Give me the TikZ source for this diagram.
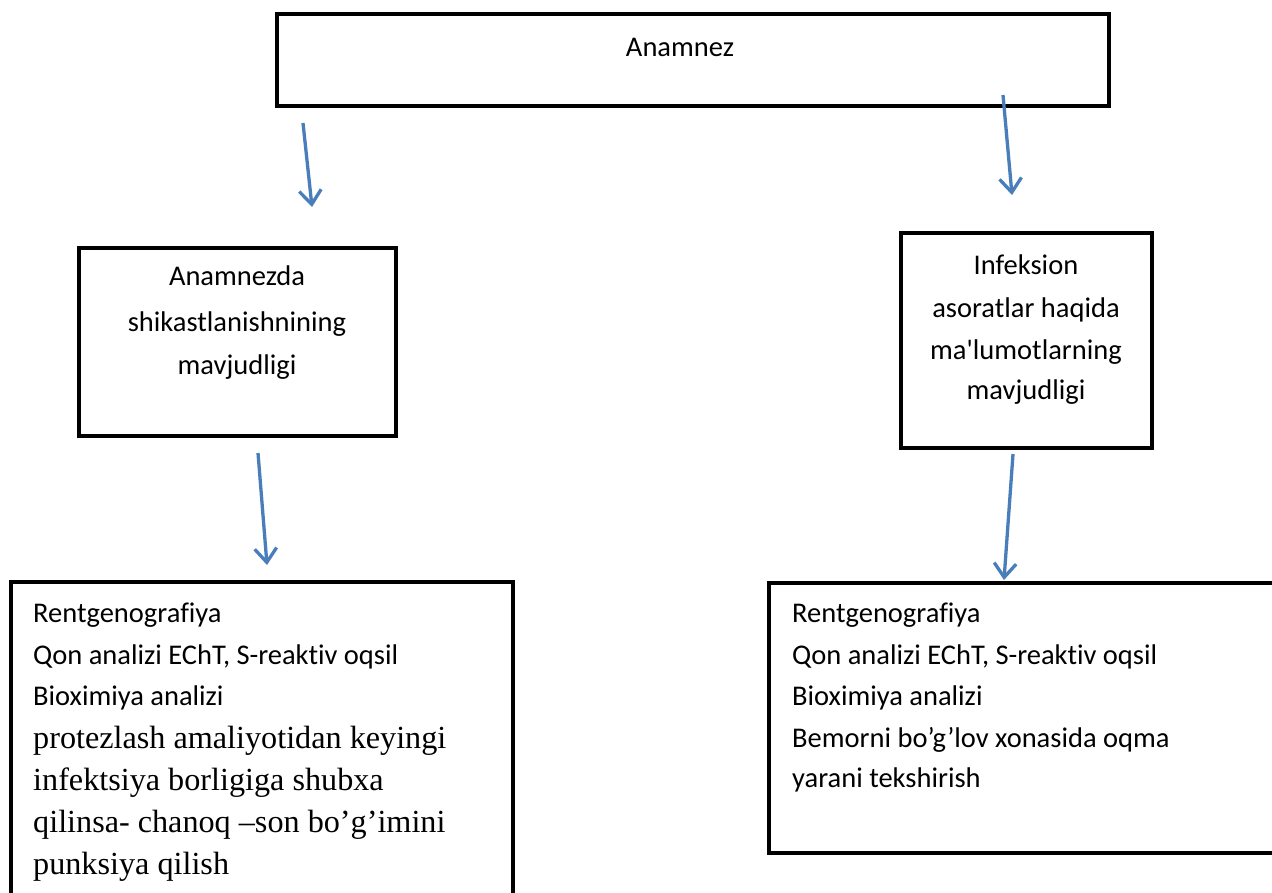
\documentclass[tikz,border=0pt]{standalone}
\usepackage{fontspec}
\setmainfont{Liberation Serif}
\newfontfamily\calfont[Ligatures=NoCommon]{Carlito}
\usetikzlibrary{arrows.meta}
\definecolor{arrblue}{HTML}{4A7EBB}
\begin{document}
\begin{tikzpicture}[x=1pt,y=-1pt,
  box/.style={draw=black,line width=3.8pt,inner sep=0pt,fill=none},
  sanstxt/.style={inner sep=0pt,font=\calfont\fontsize{28.5}{34}\selectfont},
  seriftxt/.style={inner sep=0pt,font=\fontsize{32.2}{38}\selectfont},
  conn/.style={draw=arrblue,line width=3.3pt,-{Straight Barb[length=14pt,width=22pt,line width=3.3pt]}}
]
\useasboundingbox (0,0) rectangle (1272,892);
\fill[white] (0,0) rectangle (1272,892);
% boxes
\node[box,minimum width=832pt,minimum height=92pt] (top) at (693,60) {};
\node[box,minimum width=317pt,minimum height=188pt] (left) at (237.5,342) {};
\node[box,minimum width=251pt,minimum height=215pt] (right) at (1026.5,340.5) {};
\node[box,minimum width=502pt,minimum height=340pt] (bl) at (262,752) {};
\node[box,minimum width=520pt,minimum height=270pt] (br) at (1029,718) {};
% texts
\node[sanstxt,anchor=base] (t0) at (680,56) {Anamnez};
\node[sanstxt,anchor=base] (t1) at (237,285) {Anamnezda};
\node[sanstxt,anchor=base] (t2) at (237,331) {shikastlanishnining};
\node[sanstxt,anchor=base] (t3) at (237,374) {mavjudligi};
\node[sanstxt,anchor=base] (r1) at (1026,274) {Infeksion};
\node[sanstxt,anchor=base] (r2) at (1026,317) {asoratlar haqida};
\node[sanstxt,anchor=base] (r3) at (1026,359) {ma'lumotlarning};
\node[sanstxt,anchor=base] (r4) at (1026,399) {mavjudligi};
\node[sanstxt,anchor=base west] (a1) at (33,622) {Rentgenografiya};
\node[sanstxt,anchor=base west] (a2) at (33,664) {Qon analizi EChT, S-reaktiv oqsil};
\node[sanstxt,anchor=base west] (a3) at (33,705) {Bioximiya analizi};
\node[seriftxt,anchor=base west] (a4) at (33,748) {protezlash amaliyotidan keyingi};
\node[seriftxt,anchor=base west] (a5) at (33,790) {infektsiya borligiga shubxa};
\node[seriftxt,anchor=base west] (a6) at (33,832) {qilinsa- chanoq –son bo’g’imini};
\node[seriftxt,anchor=base west] (a7) at (33,874) {punksiya qilish};
\node[sanstxt,anchor=base west] (b1) at (792,622) {Rentgenografiya};
\node[sanstxt,anchor=base west] (b2) at (792,664) {Qon analizi EChT, S-reaktiv oqsil};
\node[sanstxt,anchor=base west] (b3) at (792,705) {Bioximiya analizi};
\node[sanstxt,anchor=base west] (b4) at (792,747) {Bemorni bo’g’lov xonasida oqma};
\node[sanstxt,anchor=base west] (b5) at (792,787) {yarani tekshirish};
% arrow endpoints
\coordinate (s1) at (303,123); \coordinate (e1) at (312,207);
\coordinate (s2) at (1003,95); \coordinate (e2) at (1012,195);
\coordinate (s3) at (258,453); \coordinate (e3) at (267,565);
\coordinate (s4) at (1013,454); \coordinate (e4) at (1004,580);
\draw[conn] (s1) -- (e1);
\draw[conn] (s2) -- (e2);
\draw[conn] (s3) -- (e3);
\draw[conn] (s4) -- (e4);
\end{tikzpicture}
\end{document}
